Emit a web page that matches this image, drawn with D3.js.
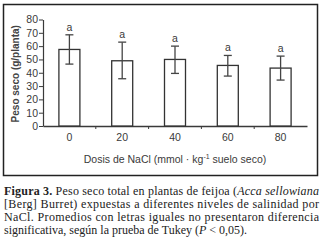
<!DOCTYPE html>
<html><head><meta charset="utf-8">
<script src="https://cdn.jsdelivr.net/npm/d3@7"></script>
<style>body{margin:0;background:#fff}svg{display:block}</style>
</head><body>
<svg id="c" width="325" height="252"></svg>
<script>
const categories = ["0","20","40","60","80"];
const means = [57.5, 49, 50, 45.5, 43.5];
const errLow = [46.5, 35.5, 39.5, 37.5, 34.5];
const errHigh = [68.5, 63, 60, 53, 52.5];
const letters = ["a","a","a","a","a"];
const yTicks = [0,10,20,30,40,50,60,70,80];

const svg = d3.select("#c");
const ink = "#3a3a3a";
// frame
svg.append("rect").attr("x",3.5).attr("y",4.5).attr("width",314).attr("height",171)
  .attr("fill","none").attr("stroke","#222").attr("stroke-width",1.5);

const L=43, R=307, T=19.5, B=126;
const x = d3.scaleBand().domain(categories).range([L,R]).paddingInner(0).paddingOuter(0);
const y = d3.scaleLinear().domain([0,80]).range([B,T]);
const bw = 21;

// y axis
const ya = svg.append("g").attr("transform",`translate(${L},0)`)
  .call(d3.axisLeft(y).tickValues(yTicks).tickSize(4).tickSizeOuter(0));
ya.select(".domain").attr("stroke",ink).attr("stroke-width",1.2);
ya.selectAll(".tick line").attr("stroke",ink);
ya.selectAll("text").attr("font-family","Liberation Sans, Arial").attr("font-size",10.5).attr("fill",ink).attr("x",-5);

// x axis
const xa = svg.append("g").attr("transform",`translate(0,${B})`)
  .call(d3.axisBottom(x).tickSize(0).tickSizeOuter(0).tickPadding(8));
xa.select(".domain").attr("stroke",ink).attr("stroke-width",1.5);
xa.selectAll("text").attr("font-family","Liberation Sans, Arial").attr("font-size",10.5).attr("fill",ink);
// boundary ticks
svg.append("g").selectAll("line").data(categories.slice(1)).join("line")
  .attr("x1",d=>x(d)).attr("x2",d=>x(d)).attr("y1",B).attr("y2",B+3)
  .attr("stroke",ink).attr("stroke-width",1);

// bars
const g = svg.append("g");
g.selectAll("rect").data(categories).join("rect")
  .attr("x",(d)=>x(d)+x.bandwidth()/2-bw/2).attr("width",bw)
  .attr("y",(d,i)=>y(means[i])).attr("height",(d,i)=>B-y(means[i]))
  .attr("fill","#fff").attr("stroke","#333").attr("stroke-width",1.3);
// error bars
categories.forEach((d,i)=>{
  const cx = x(d)+x.bandwidth()/2;
  const eg = svg.append("g").attr("stroke","#444").attr("stroke-width",1.3);
  eg.append("line").attr("x1",cx).attr("x2",cx).attr("y1",y(errLow[i])).attr("y2",y(errHigh[i]));
  eg.append("line").attr("x1",cx-4).attr("x2",cx+4).attr("y1",y(errLow[i])).attr("y2",y(errLow[i]));
  eg.append("line").attr("x1",cx-4).attr("x2",cx+4).attr("y1",y(errHigh[i])).attr("y2",y(errHigh[i]));
  svg.append("text").attr("x",cx).attr("y",y(errHigh[i])-4).attr("text-anchor","middle")
    .attr("font-family","Liberation Sans, Arial").attr("font-size",10.5).attr("fill",ink).text(letters[i]);
});

// axis titles
svg.append("text").attr("transform",`translate(19,${(T+B)/2+1}) rotate(-90)`).attr("text-anchor","middle")
  .attr("font-family","Liberation Sans, Arial").attr("font-size",10).attr("font-weight","bold").attr("fill","#444")
  .text("Peso seco (g/planta)");
const xt = svg.append("text").attr("x",175).attr("y",163).attr("text-anchor","middle")
  .attr("font-family","Liberation Sans, Arial").attr("font-size",10.5).attr("fill",ink);
xt.append("tspan").text("Dosis de NaCl (mmol · kg");
xt.append("tspan").attr("dy",-4).attr("font-size",7).text("-1");
xt.append("tspan").attr("dy",4).text(" suelo seco)");

// caption
const cap = [
  [[{t:"Figura 3.",b:1},{t:" Peso seco total en plantas de feijoa ("},{t:"Acca sellowiana",i:1}], true],
  [[{t:"[Berg] Burret) expuestas a diferentes niveles de salinidad por"}], true],
  [[{t:"NaCl. Promedios con letras iguales no presentaron diferencia"}], true],
  [[{t:"significativa, según la prueba de Tukey ("},{t:"P",i:1},{t:" < 0,05)."}], false]
];
const cy0 = 195, lh = 13;
cap.forEach(([parts,just],k)=>{
  const t = svg.append("text").attr("x",4).attr("y",cy0+k*lh)
    .attr("font-family","Liberation Serif, Times New Roman, serif").attr("font-size",12).attr("fill","#222");
  if (just) t.attr("textLength",315).attr("lengthAdjust","spacing");
  parts.forEach(p=>{
    const s = t.append("tspan").text(p.t);
    if (p.b) s.attr("font-weight","bold");
    if (p.i) s.attr("font-style","italic");
  });
});
</script>
</body></html>
